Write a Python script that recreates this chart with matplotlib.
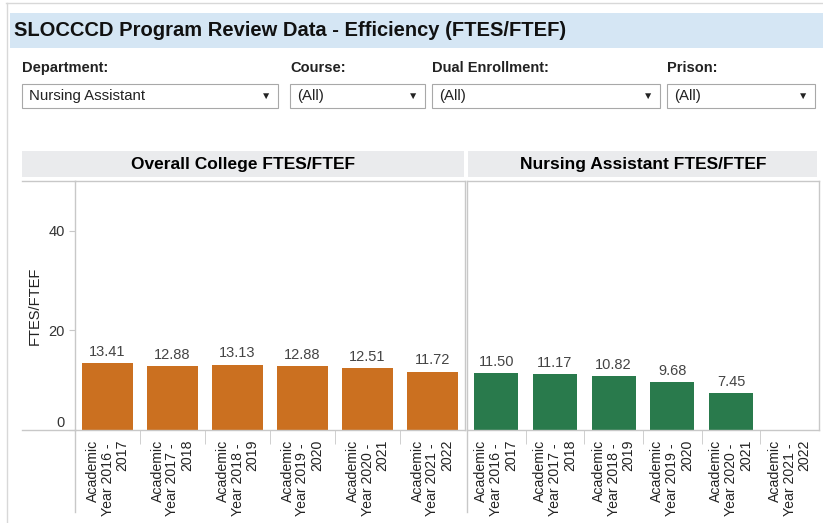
import matplotlib.pyplot as plt
import numpy as np
from matplotlib.patches import Rectangle
from matplotlib.lines import Line2D

plt.rcParams['font.family'] = ['Liberation Sans', 'DejaVu Sans']

# data
years = ["2016 - 2017", "2017 - 2018", "2018 - 2019", "2019 - 2020", "2020 - 2021", "2021 - 2022"]
college_values = [13.41, 12.88, 13.13, 12.88, 12.51, 11.72]
nursing_values = [11.50, 11.17, 10.82, 9.68, 7.45, None]

left_title = "Overall College FTES/FTEF"
right_title = "Nursing Assistant FTES/FTEF"
filters = [("Department:", "Nursing Assistant"), ("Course:", "(All)"),
           ("Dual Enrollment:", "(All)"), ("Prison:", "(All)")]

W, H = 823, 523
ORANGE = "#CB7020"
GREEN = "#297A4C"
LINE = "#C8C8C8"

fig = plt.figure(figsize=(W / 100, H / 100), dpi=100)


def fx(x):
    return x / W


def fy(y):
    return 1 - y / H


def hline(x0, x1, y, color=LINE, lw=1):
    fig.add_artist(Line2D([fx(x0), fx(x1)], [fy(y), fy(y)], color=color, lw=lw))


def vline(x, y0, y1, color=LINE, lw=1):
    fig.add_artist(Line2D([fx(x), fx(x)], [fy(y0), fy(y1)], color=color, lw=lw))


# outer frame
hline(6, W, 3, color="#D8D8D8")
vline(7, 3, H, color="#D8D8D8")

# title band
fig.add_artist(Rectangle((fx(10), fy(48)), fx(W - 10), (35) / H, color="#D5E6F4", lw=0))
fig.text(fx(14), fy(31), "SLOCCCD Program Review Data - Efficiency (FTES/FTEF)",
         fontsize=14.5, fontweight="bold", va="center", ha="left", color="#111111")

# filter dropdowns
boxes = [(22, 278), (290, 425), (432, 660), (667, 815)]
for (label, value), (x0, x1) in zip(filters, boxes):
    fig.text(fx(x0), fy(68), label, fontsize=10.5, fontweight="bold", va="center", color="#222222")
    fig.add_artist(Rectangle((fx(x0), fy(108)), fx(x1 - x0), 24 / H,
                             facecolor="white", edgecolor="#A8A8A8", lw=0.8))
    fig.text(fx(x0 + 7), fy(96), value, fontsize=10.8, va="center", color="#222222")
    fig.text(fx(x1 - 12), fy(96), "\u25BC", fontsize=7.5, va="center", ha="center", color="#222222")

# pane headers
fig.add_artist(Rectangle((fx(22), fy(177)), fx(442), 26 / H, color="#EAEBED", lw=0))
fig.add_artist(Rectangle((fx(468), fy(177)), fx(349), 26 / H, color="#EAEBED", lw=0))
fig.text(fx(243), fy(164), left_title, fontsize=12.5, fontweight="bold", ha="center", va="center")
fig.text(fx(643), fy(164), right_title, fontsize=12.5, fontweight="bold", ha="center", va="center")

ax1 = fig.add_axes([fx(75), fy(430), fx(465 - 75), (430 - 181) / H])
ax2 = fig.add_axes([fx(467), fy(430), fx(819 - 467), (430 - 181) / H])

tick_labels = ["Academic\nYear " + y[:-4] + "\n" + y[-4:] for y in years]
x = np.arange(len(years))

bars1 = ax1.bar(x, college_values, width=0.77, color=ORANGE)
ax1.bar_label(bars1, fmt="%.2f", padding=3, fontsize=10.5, color="#444444")

nx = [i for i, v in enumerate(nursing_values) if v is not None]
nv = [v for v in nursing_values if v is not None]
bars2 = ax2.bar(nx, nv, width=0.75, color=GREEN)
ax2.bar_label(bars2, fmt="%.2f", padding=3, fontsize=10.5, color="#444444")

for ax in (ax1, ax2):
    ax.set_xlim(-0.5, len(years) - 0.5)
    ax.set_ylim(0, 50)
    for s in ax.spines.values():
        s.set_color(LINE)
        s.set_linewidth(1)
    ax.set_xticks(x)
    ax.set_xticklabels(tick_labels, rotation=90, fontsize=10.2, color="#222222",
                       ha="center", va="top", multialignment="right", linespacing=1.08)
    ax.set_xticks(np.arange(0.5, len(years) - 1, 1), minor=True)
    ax.tick_params(axis="x", which="major", length=0, pad=7)
    ax.tick_params(axis="x", which="minor", length=10, color=LINE)

ax1.set_yticks([0, 20, 40])
ax1.tick_params(axis="y", length=4, color=LINE, labelsize=10.5, labelcolor="#333333")
ax1.yaxis.get_major_ticks()[0].label1.set_verticalalignment("bottom")
ax1.set_ylabel("FTES/FTEF", fontsize=10.5, color="#222222", labelpad=5)
ax2.set_yticks([])

# extension lines
hline(22, 75, 181)
hline(22, 75, 430)
vline(75, 430, 512)
vline(467, 430, 512)

fig.savefig("out.png", dpi=100)
